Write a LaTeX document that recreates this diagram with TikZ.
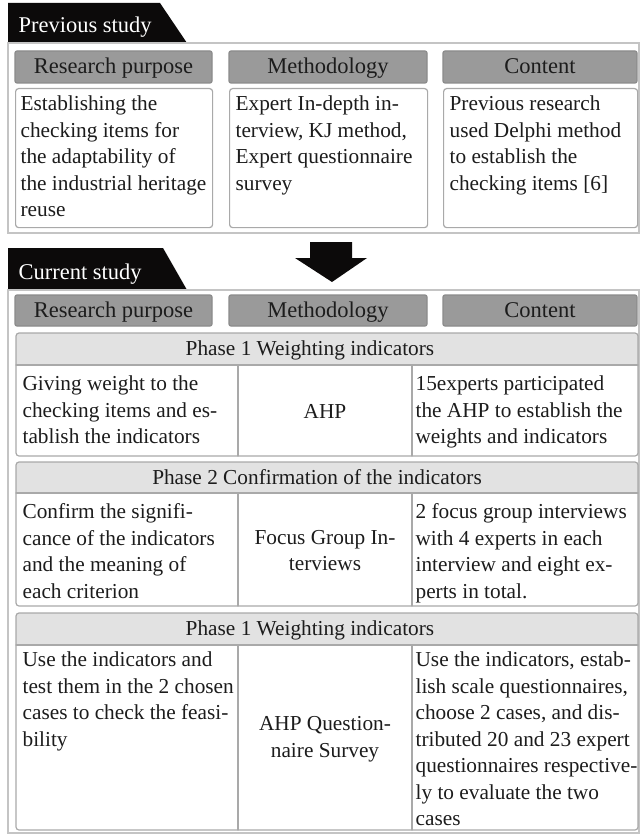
\documentclass[tikz,border=0pt]{standalone}
\usepackage{fontspec}
\setmainfont{Liberation Serif}
\usepackage{tikz}

\definecolor{tabblack}{HTML}{0C0A0A}
\definecolor{framegrey}{HTML}{C4C4C4}
\definecolor{headgrey}{HTML}{9A9A9A}
\definecolor{boxgrey}{HTML}{A9A9A9}
\definecolor{phasegrey}{HTML}{E2E2E2}
\definecolor{textdark}{HTML}{1C1C1C}

\begin{document}
\begin{tikzpicture}[%
        x = 1pt, y = -1pt,
        line width = 1.2pt,
        line cap = round,
        tabtext/.style = {anchor = west, inner sep = 0pt, text = white,
            font = \fontsize{22.5}{27}\selectfont},
        frame/.style = {draw = framegrey, line width = 1.5pt},
        headbox/.style = {draw = headgrey!90!black, fill = headgrey,
            rounded corners = 2pt, inner sep = 0pt, text = textdark,
            text height = 15pt, text depth = 2pt,
            font = \fontsize{22.5}{27}\selectfont},
        whitebox/.style = {draw = boxgrey, fill = white, rounded corners = 3pt,
            anchor = north west, inner sep = 0pt},
        cellline/.style = {draw = boxgrey},
        celltext/.style = {anchor = north west, inner sep = 0pt, align = left,
            text = textdark, font = \fontsize{21.3}{26.5}\selectfont},
        midtext/.style = {inner sep = 0pt, align = center,
            text = textdark, font = \fontsize{21.3}{26.5}\selectfont},
        phasetitle/.style = {inner sep = 0pt, text = textdark,
            text height = 15pt, text depth = 2pt,
            font = \fontsize{21.3}{26.5}\selectfont}
    ]

        \useasboundingbox (0,0) rectangle (640,834);

        % Previous study: tab and frame.
        \fill[tabblack] (8,3) -- (160,3) -- (187,43) -- (8,43) -- cycle;
        \node[tabtext] (prevlabel) at (18,27) {Previous study};
        \draw[frame] (8,43) rectangle (639,233);

        % Column headers.
        \node[headbox, minimum width = 197pt, minimum height = 32pt]
            (prevpurpose) at (113.5,67) {Research purpose};
        \node[headbox, minimum width = 198pt, minimum height = 32pt]
            (prevmethod) at (328,67) {Methodology};
        \node[headbox, minimum width = 194pt, minimum height = 32pt]
            (prevcontent) at (540,67) {Content};

        % White boxes with their texts.
        \node[whitebox, minimum width = 197pt, minimum height = 139pt]
            (prevpurposebox) at (15,88) {};
        \node[whitebox, minimum width = 198pt, minimum height = 139pt]
            (prevmethodbox) at (229,88) {};
        \node[whitebox, minimum width = 194pt, minimum height = 139pt]
            (prevcontentbox) at (443,88) {};

        \node[celltext] (prevpurposetext) at (20,95.5)
            {Establishing the\\checking items for\\the adaptability of\\the industrial heritage\\reuse};
        \node[celltext] (prevmethodtext) at (235,95.5)
            {Expert In-depth in-\\terview, KJ method,\\Expert questionnaire\\survey};
        \node[celltext] (prevcontenttext) at (449,95.5)
            {Previous research\\used Delphi method\\to establish the\\checking items [6]};

        % Block arrow between the two studies.
        \fill[tabblack] (310,242) -- (352,242) -- (352,258) -- (367,258)
            -- (332,282) -- (295,258) -- (310,258) -- cycle;

        % Current study: tab and frame.
        \fill[tabblack] (8,248) -- (163,248) -- (187,290) -- (8,290) -- cycle;
        \node[tabtext] (curlabel) at (18,274) {Current study};
        \draw[frame] (8,290) rectangle (639,833);

        % Column headers.
        \node[headbox, minimum width = 197pt, minimum height = 31pt]
            (curpurpose) at (113.5,310.5) {Research purpose};
        \node[headbox, minimum width = 198pt, minimum height = 31pt]
            (curmethod) at (328,310.5) {Methodology};
        \node[headbox, minimum width = 194pt, minimum height = 31pt]
            (curcontent) at (540,310.5) {Content};

        % Phase 1 table.
        \begin{scope}
            \clip[rounded corners = 3pt] (16,333) rectangle (638,456);
            \fill[phasegrey] (16,333) rectangle (638,365);
        \end{scope}
        \draw[cellline, rounded corners = 3pt] (16,333) rectangle (638,456);
        \draw[cellline] (16,365) -- (638,365);
        \draw[cellline] (238,365) -- (238,456);
        \draw[cellline] (412,365) -- (412,456);

        \node[phasetitle] (phaseonetitle) at (310,349) {Phase 1 Weighting indicators};
        \node[celltext] (phaseonepurpose) at (22,375.5)
            {Giving weight to the\\checking items and es-\\tablish the indicators};
        \node[midtext] (phaseonemethod) at (325,411.5) {AHP};
        \node[celltext] (phaseonecontent) at (415,375.5)
            {15experts participated\\the AHP to establish the\\weights and indicators};

        % Phase 2 table.
        \begin{scope}
            \clip[rounded corners = 3pt] (16,462) rectangle (638,606);
            \fill[phasegrey] (16,462) rectangle (638,493);
        \end{scope}
        \draw[cellline, rounded corners = 3pt] (16,462) rectangle (638,606);
        \draw[cellline] (16,493) -- (638,493);
        \draw[cellline] (238,493) -- (238,606);
        \draw[cellline] (412,493) -- (412,606);

        \node[phasetitle] (phasetwotitle) at (317,477.5) {Phase 2 Confirmation of the indicators};
        \node[celltext] (phasetwopurpose) at (22,503)
            {Confirm the signifi-\\cance of the indicators\\and the meaning of\\each criterion};
        \node[midtext] (phasetwomethod) at (325,550.5) {Focus Group In-\\terviews};
        \node[celltext] (phasetwocontent) at (415,503)
            {2 focus group interviews\\with 4 experts in each\\interview and eight ex-\\perts in total.};

        % Phase 3 table (printed as Phase 1 again).
        \begin{scope}
            \clip[rounded corners = 3pt] (16,613) rectangle (638,830);
            \fill[phasegrey] (16,613) rectangle (638,645);
        \end{scope}
        \draw[cellline, rounded corners = 3pt] (16,613) rectangle (638,830);
        \draw[cellline] (16,645) -- (638,645);
        \draw[cellline] (238,645) -- (238,830);
        \draw[cellline] (412,645) -- (412,830);

        \node[phasetitle] (phasethreetitle) at (310,629) {Phase 1 Weighting indicators};
        \node[celltext] (phasethreepurpose) at (22,651.5)
            {Use the indicators and\\test them in the 2 chosen\\cases to check the feasi-\\bility};
        \node[midtext] (phasethreemethod) at (325,739) {AHP Question-\\naire Survey};
        \node[celltext] (phasethreecontent) at (415,651.5)
            {Use the indicators, estab-\\lish scale questionnaires,\\choose 2 cases, and dis-\\tributed 20 and 23 expert\\questionnaires respective-\\ly to evaluate the two\\cases};
    \end{tikzpicture}
\end{document}
